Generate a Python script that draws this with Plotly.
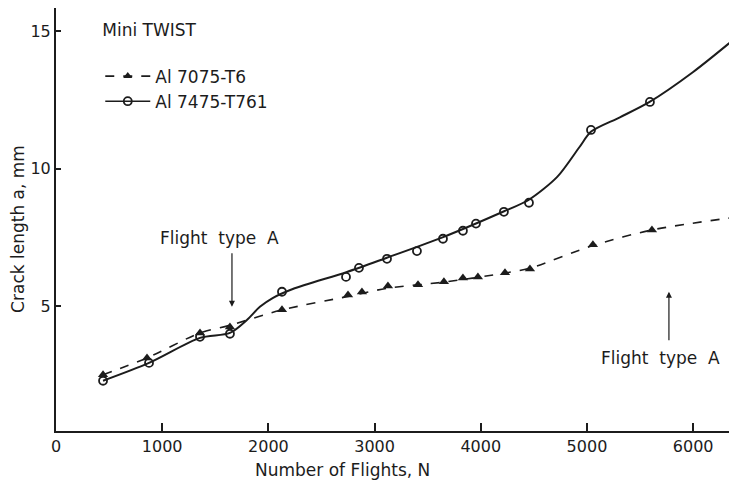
import plotly.graph_objects as go

# measured points
n_7075 = [443, 857, 1356, 1638, 2128, 2750, 2881, 3126, 3409, 3653, 3832, 3973, 4228, 4463, 5056, 5612]
a_7075 = [2.5, 3.11, 4.02, 4.24, 4.86, 5.40, 5.51, 5.73, 5.77, 5.88, 6.02, 6.06, 6.21, 6.35, 7.23, 7.77]
n_7475 = [443, 876, 1356, 1638, 2128, 2731, 2853, 3117, 3399, 3644, 3832, 3955, 4218, 4454, 5038, 5593]
a_7475 = [2.28, 2.93, 3.88, 3.99, 5.52, 6.06, 6.39, 6.72, 7.0, 7.45, 7.74, 8.0, 8.43, 8.76, 11.41, 12.43]

# faired curves
curve_n_7075 = [443, 857, 1356, 1638, 2128, 2750, 3126, 3650, 4228, 4463, 5056, 5612, 6413]
curve_a_7075 = [2.5, 3.11, 4.02, 4.30, 4.86, 5.35, 5.65, 5.87, 6.20, 6.38, 7.20, 7.77, 8.24]
curve_n_7475 = [443, 876, 1356, 1638, 1800, 1920, 2040, 2230, 2740, 3110, 3640, 4220, 4450, 4720, 4930, 5040, 5310, 5590, 6000, 6413]
curve_a_7475 = [2.28, 2.93, 3.84, 4.02, 4.5, 4.97, 5.29, 5.62, 6.24, 6.75, 7.5, 8.45, 8.86, 9.7, 10.79, 11.35, 11.87, 12.43, 13.52, 14.8]

x_ticks = [0, 1000, 2000, 3000, 4000, 5000, 6000]
y_ticks = [5, 10, 15]

INK = "#1c1c1c"
FONT = "DejaVu Sans"

fig = go.Figure()

fig.add_trace(go.Scatter(x=curve_n_7075, y=curve_a_7075, mode="lines",
                         line=dict(color=INK, width=1.6, dash="dash", shape="spline", smoothing=0.8),
                         showlegend=False, hoverinfo="skip"))
fig.add_trace(go.Scatter(x=curve_n_7475, y=curve_a_7475, mode="lines",
                         line=dict(color=INK, width=2, shape="spline", smoothing=0.8),
                         showlegend=False, hoverinfo="skip"))
fig.add_trace(go.Scatter(x=n_7075, y=a_7075, mode="markers",
                         marker=dict(symbol="triangle-up", size=9, color=INK),
                         showlegend=False))
fig.add_trace(go.Scatter(x=n_7475, y=a_7475, mode="markers",
                         marker=dict(symbol="circle-open", size=8, color=INK, line=dict(width=1.8)),
                         showlegend=False))

# legend entries
fig.add_trace(go.Scatter(x=[None], y=[None], mode="lines+markers", name="Al 7075-T6",
                         line=dict(color=INK, width=1.6, dash="dash"),
                         marker=dict(symbol="triangle-up", size=8, color=INK)))
fig.add_trace(go.Scatter(x=[None], y=[None], mode="lines+markers", name="Al 7475-T761",
                         line=dict(color=INK, width=1.6),
                         marker=dict(symbol="circle-open", size=8, color=INK, line=dict(width=1.8))))

fig.add_annotation(x=1657, y=4.97, xref="x", yref="y", text="", showarrow=True,
                   ax=0, ay=-55, arrowhead=2, arrowsize=1, arrowwidth=1.2, arrowcolor=INK)
fig.add_annotation(x=1535, y=7.48, xref="x", yref="y", text="Flight  type  A", showarrow=False,
                   font=dict(family=FONT, size=17, color=INK))
fig.add_annotation(x=5772, y=5.52, xref="x", yref="y", text="", showarrow=True,
                   ax=0, ay=50, arrowhead=2, arrowsize=1, arrowwidth=1.2, arrowcolor=INK)
fig.add_annotation(x=5697, y=3.12, xref="x", yref="y", text="Flight  type  A", showarrow=False,
                   font=dict(family=FONT, size=17, color=INK))

# axis titles
fig.add_annotation(x=0.42, y=-0.092, xref="paper", yref="paper", text="Number of Flights, N",
                   showarrow=False, xanchor="center", yanchor="middle",
                   font=dict(family=FONT, size=17, color=INK))
fig.add_annotation(x=-0.056, y=0.4775, xref="paper", yref="paper", text="Crack length a, mm",
                   showarrow=False, xanchor="center", yanchor="middle", textangle=-90,
                   font=dict(family=FONT, size=17, color=INK))

fig.update_layout(
    width=737, height=486,
    margin=dict(l=48, r=8, t=0, b=63),
    paper_bgcolor="white", plot_bgcolor="white",
    font=dict(family=FONT, size=16, color=INK),
    legend=dict(x=0.065, y=0.985, xanchor="left", yanchor="top",
                title=dict(text="Mini TWIST<br> ", font=dict(size=17)),
                bgcolor="rgba(0,0,0,0)", font=dict(size=17), itemwidth=45, tracegroupgap=2),
    xaxis=dict(range=[0, 6413], tickvals=x_ticks, ticktext=[str(v) for v in x_ticks],
               showgrid=False, zeroline=False, showline=True, linecolor=INK, linewidth=2,
               ticks="inside", ticklen=8, tickwidth=1.5, tickcolor=INK),
    yaxis=dict(range=[0.45, 15.85], tickvals=y_ticks, ticktext=[str(v) for v in y_ticks],
               showgrid=False, zeroline=False, showline=True, linecolor=INK, linewidth=2,
               ticks="inside", ticklen=5, tickwidth=1.5, tickcolor=INK),
)

fig.write_html("out.html")
